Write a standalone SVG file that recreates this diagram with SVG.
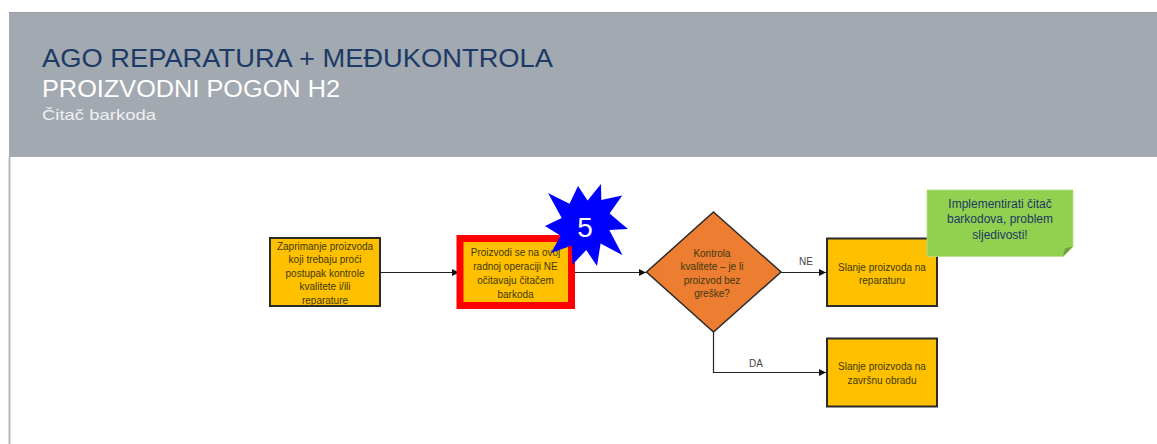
<svg xmlns="http://www.w3.org/2000/svg" width="1157" height="444" viewBox="0 0 1157 444">
<defs>
<style>
.t{font-family:"Liberation Sans","Open Sans",Arial,sans-serif;text-anchor:middle}
.box{fill:#ffc000;stroke:#2b2b2b;stroke-width:2}
.bt{font-size:10px;fill:#3d3a10}
.ln{fill:none;stroke:#222;stroke-width:1.2}
.lbl{font-size:10px;fill:#444}
</style>
<marker id="ah" viewBox="0 0 10 10" refX="10" refY="5" markerWidth="7" markerHeight="7" markerUnits="userSpaceOnUse" orient="auto">
<path d="M0,0 L10,5 L0,10 z" fill="#111"/>
</marker>
</defs>
<rect width="1157" height="444" fill="#ffffff"/>
<g id="header">
<rect x="9" y="12" width="1148" height="145" fill="#a3a9b0"/>
<line x1="9" y1="12.5" x2="1157" y2="12.5" stroke="#9a9fa5" stroke-width="1"/>
<line x1="9.5" y1="157" x2="9.5" y2="444" stroke="#b5b8bc" stroke-width="2"/>
<text x="42" y="67" font-family="Liberation Sans,Arial,sans-serif" font-size="25" fill="#1b3a66" textLength="511" lengthAdjust="spacingAndGlyphs">AGO REPARATURA + MEĐUKONTROLA</text>
<text x="42" y="97" font-family="Liberation Sans,Arial,sans-serif" font-size="23" fill="#ffffff" textLength="298" lengthAdjust="spacingAndGlyphs">PROIZVODNI POGON H2</text>
<text x="42" y="120" font-family="Liberation Sans,Arial,sans-serif" font-size="15" fill="#eef0f2" textLength="114" lengthAdjust="spacingAndGlyphs">Čitač barkoda</text>
</g>
<g id="connectors">
<line class="ln" x1="380" y1="272.5" x2="459" y2="272.5" marker-end="url(#ah)"/>
<line class="ln" x1="575" y1="272.5" x2="646" y2="272.5" marker-end="url(#ah)"/>
<line class="ln" x1="781" y1="272.5" x2="826" y2="272.5" marker-end="url(#ah)"/>
<polyline class="ln" points="713.5,332 713.5,372.5 826,372.5" marker-end="url(#ah)"/>
<text class="t lbl" x="806" y="265">NE</text>
<text class="t lbl" x="756" y="367">DA</text>
</g>
<g id="n1">
<rect class="box" x="270" y="238" width="110" height="68"/>
<text class="t bt" x="325" y="249.5">Zaprimanje proizvoda</text>
<text class="t bt" x="325" y="263">koji trebaju proći</text>
<text class="t bt" x="325" y="276.5">postupak kontrole</text>
<text class="t bt" x="325" y="290">kvalitete i/ili</text>
<text class="t bt" x="325" y="303.5">reparature</text>
</g>
<g id="n2">
<rect x="460" y="238.5" width="111.5" height="67" fill="#ffc000" stroke="#ff0000" stroke-width="7"/>
<text class="t bt" x="515.5" y="255.5">Proizvodi se na ovoj</text>
<text class="t bt" x="515.5" y="269.5">radnoj operaciji NE</text>
<text class="t bt" x="515.5" y="283.5">očitavaju čitačem</text>
<text class="t bt" x="515.5" y="297.5">barkoda</text>
</g>
<g id="star">
<polygon fill="#0000ff" points="601,184 601.3,200.1 622.2,195.5 609.6,213.6 628,229 609.3,229.9 622.6,255.3 600.6,243.5 597,266 586.2,250 572.5,264.8 571.8,245.4 551,253 560.6,235.7 545,226 561.7,218 548,193 569.5,203.7 578,186 587.6,200.6"/>
<text x="585" y="237" font-family="Liberation Sans,Arial,sans-serif" font-size="28" fill="#ffffff" text-anchor="middle">5</text>
</g>
<g id="decision">
<polygon points="713.5,212 781,272 713.5,332 646.5,272" fill="#ed7d31" stroke="#2b2b2b" stroke-width="1.5"/>
<text class="t bt" x="712" y="256.5">Kontrola</text>
<text class="t bt" x="712" y="270">kvalitete – je li</text>
<text class="t bt" x="712" y="283.5">proizvod bez</text>
<text class="t bt" x="712" y="297">greške?</text>
</g>
<g id="n3">
<rect class="box" x="827" y="238.5" width="110" height="67.5"/>
<text class="t bt" x="882" y="271">Slanje proizvoda na</text>
<text class="t bt" x="882" y="284">reparaturu</text>
</g>
<g id="n4">
<rect class="box" x="827" y="338.5" width="110" height="68"/>
<text class="t bt" x="882" y="369.5">Slanje proizvoda na</text>
<text class="t bt" x="882" y="383.5">završnu obradu</text>
</g>
<g id="note">
<path d="M927,190 H1073 V246.5 L1063,256.5 H927 Z" fill="#92d050" stroke="#b9e08a" stroke-width="0.8"/>
<path d="M1063,256.5 L1065,248.5 L1073,246.5 Z" fill="#6f9e3a"/>
<text class="t" x="1000" y="207.5" font-size="12" fill="#1f3864">Implementirati čitač</text>
<text class="t" x="1000" y="223" font-size="12" fill="#1f3864">barkodova, problem</text>
<text class="t" x="1000" y="239" font-size="12" fill="#1f3864">sljedivosti!</text>
</g>
</svg>
